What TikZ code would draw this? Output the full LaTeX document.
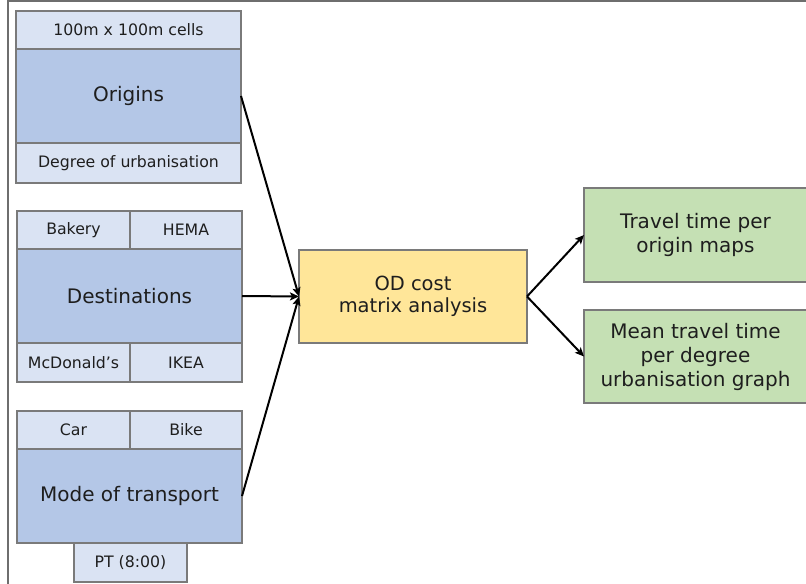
\documentclass[tikz,border=0pt]{standalone}
\usepackage{fontspec}
\setmainfont{DejaVu Sans}
\usetikzlibrary{arrows.meta}
\definecolor{cellLight}{HTML}{DAE3F3}
\definecolor{cellMain}{HTML}{B4C7E7}
\definecolor{odFill}{HTML}{FFE699}
\definecolor{outFill}{HTML}{C5E0B4}
\definecolor{edgeGray}{HTML}{7A7A7A}
\definecolor{frameGray}{HTML}{6E6E6E}
\definecolor{inkText}{HTML}{1E1E1E}
\def\px{0.75pt}
\tikzset{
  box/.style={draw=edgeGray, line width=1.1*\px, inner sep=0pt, outer sep=0pt,
    anchor=north west, align=center, text=inkText},
  small/.style={box, fill=cellLight, font=\fontsize{11.8}{14}\selectfont},
  big/.style={box, fill=cellMain, font=\fontsize{15}{18}\selectfont},
  od/.style={box, fill=odFill, font=\fontsize{14.6}{16.8}\selectfont},
  result/.style={box, fill=outFill, font=\fontsize{15}{18}\selectfont},
  flow/.style={draw=black, line width=2*\px, -{Stealth[length=9*\px, width=8*\px, inset=2*\px]}},
}
\begin{document}
\begin{tikzpicture}[x=\px, y=-\px]
\useasboundingbox (0,0) rectangle (806,584);
\fill[white] (0,0) rectangle (806,584);
% outer frame (top and left edges)
\draw[frameGray, line width=1.4*\px] (8,584) -- (8,1.2) -- (806,1.2);

% origins
\node[small, minimum width=225*\px, minimum height=38*\px] (otop) at (16,11) {100m x 100m cells};
\node[big, minimum width=225*\px, minimum height=94*\px] (orig) at (16,49) {Origins};
\node[small, minimum width=225*\px, minimum height=40*\px] (obot) at (16,143) {Degree of urbanisation};

% destinations
\node[small, minimum width=113*\px, minimum height=38*\px] (bakery) at (17,211) {Bakery};
\node[small, minimum width=112*\px, minimum height=38*\px] (hema) at (130,211) {HEMA};
\node[big, minimum width=225*\px, minimum height=94*\px] (dest) at (17,249) {Destinations};
\node[small, minimum width=113*\px, minimum height=39*\px] (mcd) at (17,343) {McDonald’s};
\node[small, minimum width=112*\px, minimum height=39*\px] (ikea) at (130,343) {IKEA};

% mode of transport
\node[small, minimum width=113*\px, minimum height=38*\px] (car) at (17,411) {Car};
\node[small, minimum width=112*\px, minimum height=38*\px] (bike) at (130,411) {Bike};
\node[big, minimum width=225*\px, minimum height=94*\px] (mode) at (17,449) {Mode of transport};
\node[small, minimum width=113*\px, minimum height=39*\px] (pt) at (74,543) {PT (8:00)};

% analysis
\node[od, minimum width=228*\px, minimum height=93*\px] (odm) at (299,250) {OD cost\\matrix analysis};

% results
\node[result, minimum width=223*\px, minimum height=94*\px] (maps) at (584,188) {Travel time per\\origin maps};
\node[result, minimum width=223*\px, minimum height=93*\px] (graph) at (584,310) {Mean travel time\\per degree\\urbanisation graph};

% connectors
\draw[flow] (orig.east) -- (odm.west);
\draw[flow] (dest.east) -- (odm.west);
\draw[flow] (mode.east) -- (odm.west);
\draw[flow] (odm.east) -- (maps.west);
\draw[flow] (odm.east) -- (graph.west);
\end{tikzpicture}
\end{document}
